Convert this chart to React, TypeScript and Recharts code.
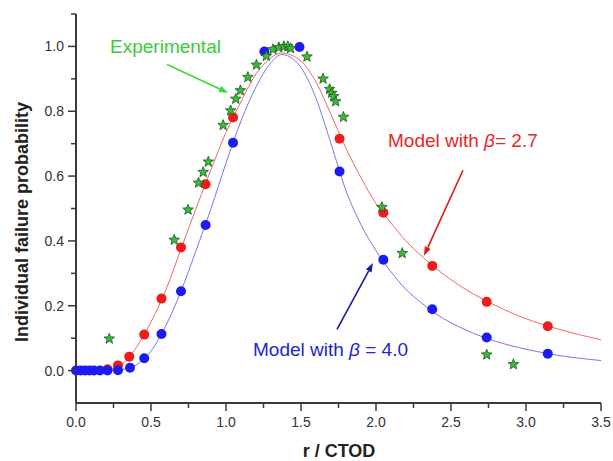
import React from 'react';
import { ComposedChart, Line, Scatter, XAxis, YAxis, ReferenceLine, ReferenceDot } from 'recharts';

// Model curves
const curveX = [0, 0.1, 0.2, 0.3, 0.4, 0.5, 0.6, 0.7, 0.8, 0.9, 1.0, 1.1, 1.2, 1.3, 1.37, 1.45, 1.5, 1.6, 1.7, 1.8, 1.9, 2.0, 2.1, 2.2, 2.3, 2.4, 2.6, 2.8, 3.0, 3.2, 3.5];
const redCurveY = [0, 0, 0.003, 0.018, 0.07, 0.15, 0.25, 0.375, 0.5, 0.62, 0.735, 0.83, 0.915, 0.965, 0.98, 0.97, 0.955, 0.89, 0.79, 0.685, 0.595, 0.515, 0.455, 0.4, 0.355, 0.315, 0.25, 0.2, 0.16, 0.13, 0.095];
const blueCurveY = [0, 0, 0, 0.003, 0.017, 0.06, 0.14, 0.245, 0.37, 0.5, 0.64, 0.77, 0.875, 0.95, 0.975, 0.96, 0.935, 0.84, 0.7, 0.555, 0.45, 0.37, 0.305, 0.25, 0.21, 0.175, 0.125, 0.09, 0.066, 0.048, 0.031];

// Model points, beta = 2.7
const redX = [0.21, 0.28, 0.355, 0.455, 0.57, 0.70, 0.864, 1.047, 1.757, 2.049, 2.375, 2.738, 3.145];
const redY = [0.004, 0.016, 0.043, 0.111, 0.222, 0.38, 0.575, 0.781, 0.715, 0.487, 0.323, 0.212, 0.137];

// Model points, beta = 4.0
const blueX = [0, 0.03, 0.06, 0.09, 0.12, 0.16, 0.21, 0.28, 0.36, 0.455, 0.57, 0.70, 0.864, 1.047, 1.256, 1.49, 1.757, 2.049, 2.375, 2.738, 3.145];
const blueY = [0, 0, 0, 0, 0, 0, 0, 0.001, 0.009, 0.038, 0.113, 0.245, 0.449, 0.703, 0.984, 0.998, 0.614, 0.342, 0.189, 0.102, 0.052];

// Experimental
const expX = [0.222, 0.655, 0.747, 0.817, 0.848, 0.882, 0.981, 1.031, 1.065, 1.096, 1.146, 1.203, 1.269, 1.313, 1.352, 1.386, 1.412, 1.43, 1.54, 1.647, 1.691, 1.705, 1.718, 1.731, 1.783, 2.039, 2.175, 2.738, 2.916];
const expY = [0.098, 0.403, 0.496, 0.579, 0.612, 0.644, 0.757, 0.802, 0.838, 0.864, 0.905, 0.943, 0.97, 0.991, 0.997, 1.0, 1.0, 0.994, 0.968, 0.9, 0.868, 0.856, 0.846, 0.83, 0.782, 0.504, 0.362, 0.049, 0.019];

const xTicks = [0, 0.25, 0.5, 0.75, 1, 1.25, 1.5, 1.75, 2, 2.25, 2.5, 2.75, 3, 3.25, 3.5];
const yTicks = [0, 0.1, 0.2, 0.3, 0.4, 0.5, 0.6, 0.7, 0.8, 0.9, 1.0, 1.1];

const zip = (xs: number[], ys: number[]) => xs.map((x, i) => ({ x, y: ys[i] }));
const redCurve = zip(curveX, redCurveY);
const blueCurve = zip(curveX, blueCurveY);
const redPts = zip(redX, redY);
const bluePts = zip(blueX, blueY);
const expPts = zip(expX, expY);

const FONT = '"Liberation Sans", Arial, Helvetica, sans-serif';
const AXIS = '#3a3a3a';

const XTick = (p: any) => {
  const v = p.payload.value;
  const major = Math.abs(v * 2 - Math.round(v * 2)) < 1e-6;
  return (
    <g>
      <line x1={p.x} x2={p.x} y1={p.y} y2={p.y + (major ? 8 : 5)} stroke={AXIS} strokeWidth={1.5} />
      {major && (
        <text x={p.x} y={p.y + 24} textAnchor="middle" fontSize={14} fontFamily={FONT} fill="#333">
          {v.toFixed(1)}
        </text>
      )}
    </g>
  );
};

const YTick = (p: any) => {
  const v = p.payload.value;
  const major = Math.round(v * 10) % 2 === 0;
  return (
    <g>
      <line x1={p.x} x2={p.x - (major ? 8 : 5)} y1={p.y} y2={p.y} stroke={AXIS} strokeWidth={1.5} />
      {major && (
        <text x={p.x - 12} y={p.y + 5} textAnchor="end" fontSize={14} fontFamily={FONT} fill="#333">
          {v.toFixed(1)}
        </text>
      )}
    </g>
  );
};

const dotShape = (color: string) => (p: any) => <circle cx={p.cx} cy={p.cy} r={5} fill={color} />;

const starShape = (p: any) => {
  const R = 5.6, r = 2.4;
  const pts: string[] = [];
  for (let i = 0; i < 10; i++) {
    const a = -Math.PI / 2 + (i * Math.PI) / 5;
    const rr = i % 2 === 0 ? R : r;
    pts.push(`${p.cx + rr * Math.cos(a)},${p.cy + rr * Math.sin(a)}`);
  }
  return <polygon points={pts.join(' ')} fill="#3cb83c" stroke="#1d5a1d" strokeWidth={0.8} />;
};

const arrowShape = (color: string) => (p: any) => {
  const { x1, y1, x2, y2 } = p;
  const ang = Math.atan2(y2 - y1, x2 - x1);
  const L = 9, W = 3.2;
  const bx = x2 - L * Math.cos(ang), by = y2 - L * Math.sin(ang);
  const px = -Math.sin(ang) * W, py = Math.cos(ang) * W;
  return (
    <g>
      <line x1={x1} y1={y1} x2={bx} y2={by} stroke={color} strokeWidth={1.6} />
      <polygon points={`${x2},${y2} ${bx + px},${by + py} ${bx - px},${by - py}`} fill={color} />
    </g>
  );
};

const textShape = (label: React.ReactNode, color: string) => (p: any) => (
  <text x={p.cx} y={p.cy} fontSize={19} fontFamily={FONT} fill={color}>
    {label}
  </text>
);

export default function App() {
  return (
    <div style={{ position: 'absolute', left: 0, top: 0, background: '#fff' }}>
      <ComposedChart width={613} height={461} margin={{ top: 14, right: 12, left: 0, bottom: 0 }}>
        <XAxis
          type="number"
          dataKey="x"
          domain={[0, 3.5]}
          ticks={xTicks}
          interval={0}
          height={58}
          tickSize={0}
          tickMargin={0}
          axisLine={{ stroke: AXIS, strokeWidth: 2 }}
          tickLine={false}
          tick={XTick}
          label={{
            content: () => (
              <text x={339} y={457} textAnchor="middle" fontSize={18} fontWeight="bold" fontFamily={FONT} fill="#222">
                r / CTOD
              </text>
            ),
          }}
        />
        <YAxis
          type="number"
          dataKey="y"
          domain={[-0.1, 1.1]}
          ticks={yTicks}
          interval={0}
          width={76}
          tickSize={0}
          tickMargin={0}
          axisLine={{ stroke: AXIS, strokeWidth: 2 }}
          tickLine={false}
          tick={YTick}
          label={{
            content: () => (
              <text
                x={28}
                y={222}
                transform="rotate(-90 28 222)"
                textAnchor="middle"
                fontSize={18}
                fontWeight="bold"
                fontFamily={FONT}
                fill="#222"
              >
                Individual failure probability
              </text>
            ),
          }}
        />
        <Line data={redCurve} dataKey="y" type="monotone" stroke="#f06a6a" strokeWidth={1} dot={false} isAnimationActive={false} />
        <Line data={blueCurve} dataKey="y" type="monotone" stroke="#7676ee" strokeWidth={1} dot={false} isAnimationActive={false} />
        <Scatter data={redPts} dataKey="y" shape={dotShape('#f01c1c')} isAnimationActive={false} />
        <Scatter data={bluePts} dataKey="y" shape={dotShape('#1c1cf2')} isAnimationActive={false} />
        <Scatter data={expPts} dataKey="y" shape={starShape} isAnimationActive={false} />

        <ReferenceLine segment={[{ x: 0.607, y: 0.944 }, { x: 1.013, y: 0.857 }]} shape={arrowShape('#3ad83a')} />
        <ReferenceLine segment={[{ x: 2.58, y: 0.618 }, { x: 2.32, y: 0.354 }]} shape={arrowShape('#dd1a1a')} />
        <ReferenceLine segment={[{ x: 1.74, y: 0.127 }, { x: 1.98, y: 0.332 }]} shape={arrowShape('#1a1aa8')} />

        <ReferenceDot x={0.227} y={0.981} r={0} shape={textShape('Experimental', '#3acc3a')} />
        <ReferenceDot
          x={2.08}
          y={0.689}
          r={0}
          shape={textShape(
            <>
              Model with <tspan fontStyle="italic">β</tspan>= 2.7
            </>,
            '#e62828'
          )}
        />
        <ReferenceDot
          x={1.18}
          y={0.045}
          r={0}
          shape={textShape(
            <>
              Model with <tspan fontStyle="italic">β</tspan> = 4.0
            </>,
            '#2424cc'
          )}
        />
      </ComposedChart>
    </div>
  );
}
